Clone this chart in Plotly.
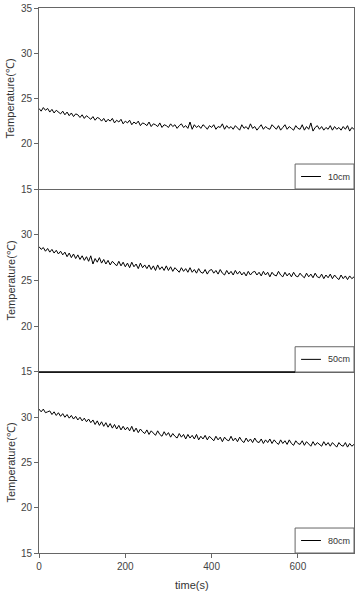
import plotly.graph_objects as go

time_s = list(range(0, 735, 5))

temp_10cm = [
    23.9, 23.6, 24.0, 23.7, 23.9, 23.5, 23.8, 23.4, 23.7, 23.5,
    23.3, 23.6, 23.2, 23.5, 23.1, 23.4, 23.0, 23.3, 23.2, 22.9,
    23.2, 22.8, 23.1, 22.9, 22.7, 23.0, 22.6, 22.9, 22.8, 22.5,
    22.8, 22.4, 22.7, 22.5, 22.8, 22.3, 22.6, 22.4, 22.7, 22.2,
    22.5, 22.3, 22.6, 22.1, 22.4, 22.2, 22.5, 22.0, 22.3, 22.2,
    22.0, 22.4, 21.9, 22.2, 22.1, 21.9, 22.3, 21.8, 22.1, 22.0,
    21.8, 22.2, 21.9, 22.1, 21.7, 22.0, 22.2, 21.8, 22.0, 21.7,
    22.4, 21.6, 22.1, 21.8, 22.0, 21.7, 22.1, 21.9, 21.6, 22.0,
    21.8, 22.1, 21.6, 21.9, 21.8, 22.2, 21.6, 22.0, 21.7, 21.9,
    21.6, 22.0, 21.8, 21.5, 22.1, 21.7, 21.9, 21.6, 22.2, 21.7,
    21.9, 21.5, 21.8, 22.1, 21.6, 21.9, 21.7, 21.6, 22.1, 21.8,
    21.6, 22.0, 21.5, 21.8, 22.1, 21.6, 21.9, 21.7, 21.5, 22.0,
    21.7, 21.6, 22.1, 21.5, 21.9, 21.6, 22.3, 21.4, 21.8, 22.0,
    21.6, 21.9, 21.5, 21.8, 21.6, 22.0, 21.5, 21.9, 21.6, 21.8,
    21.5, 21.9, 21.6, 22.0, 21.4, 21.8, 21.6,
]

temp_50cm = [
    28.7, 28.4, 28.6, 28.2, 28.5, 28.1, 28.4, 28.0, 28.3, 27.9,
    28.2, 27.8, 28.1, 27.6, 28.0, 27.5, 27.9, 27.4, 27.8, 27.3,
    27.7, 27.2, 27.6, 27.1, 27.7, 26.8, 27.4, 27.0, 27.5, 26.9,
    27.3, 26.8, 27.2, 26.7, 27.1, 26.8, 26.6, 27.1, 26.6, 27.0,
    26.5, 26.9, 26.4, 27.0, 26.5, 26.8, 26.3, 26.9, 26.4, 26.7,
    26.3, 26.7, 26.2, 26.6, 26.1, 26.7, 26.2, 26.5, 26.1, 26.6,
    26.1, 26.5, 26.0, 26.4, 26.1, 25.9, 26.4, 26.0, 26.3, 25.9,
    26.4, 25.9, 26.2, 25.8, 26.3, 25.9, 25.8, 26.2, 25.7, 26.1,
    26.2, 25.8, 26.1, 25.7, 26.2, 25.8, 25.6, 26.1, 25.7, 26.0,
    25.6, 26.1, 25.7, 26.0, 25.6, 25.9, 25.5, 26.0, 25.6, 25.9,
    26.0, 25.6, 25.9, 25.5, 26.0, 25.6, 25.9, 25.4, 25.9, 25.6,
    25.5, 26.0, 25.6, 25.4, 25.9, 25.5, 25.8, 25.4, 25.9, 25.5,
    25.4, 25.8, 25.5, 25.3, 25.8, 25.4, 25.7, 25.3, 25.8, 25.4,
    25.3, 25.7, 25.2, 25.6, 25.3, 25.7, 25.2, 25.6, 25.3, 25.1,
    25.6, 25.2, 25.5, 25.1, 25.5, 25.2, 25.4,
]

temp_80cm = [
    30.9, 30.6, 30.9, 30.5, 30.6, 30.7, 30.3, 30.6, 30.2, 30.5,
    30.1, 30.4, 30.0, 30.3, 29.9, 30.2, 29.8, 30.1, 29.7, 30.0,
    29.6, 29.9, 29.5, 29.8, 29.4, 29.7, 29.2, 29.6, 29.1, 29.5,
    29.0, 29.4, 28.9, 29.3, 28.8, 29.2, 28.7, 29.1, 28.6, 29.0,
    28.6, 28.9, 28.5, 29.0, 28.4, 28.8, 28.3, 28.7, 28.4, 28.2,
    28.6, 28.1, 28.5, 28.2, 28.0, 28.5, 28.1, 27.9, 28.4, 28.0,
    28.3, 27.8, 28.2, 27.9, 27.7, 28.2, 27.8, 28.1, 27.6, 28.1,
    27.7, 28.0, 27.6, 28.1, 27.5, 27.9, 27.6, 28.0, 27.5, 27.9,
    27.6, 27.4, 27.9, 27.5, 27.8, 27.3, 27.8, 27.5, 27.4, 27.9,
    27.4, 27.7, 27.3, 27.8, 27.4, 27.2, 27.7, 27.3, 27.6, 27.2,
    27.7, 27.3, 27.2, 27.6, 27.1, 27.5, 27.2, 27.6, 27.1, 27.5,
    27.2, 27.0, 27.5, 27.1, 27.4, 27.0, 27.5, 27.1, 26.9, 27.4,
    27.1, 27.0, 27.4, 26.9, 27.3, 27.0, 26.8, 27.3, 26.9, 27.2,
    27.0, 26.8, 27.3, 26.9, 27.2, 26.8, 27.2, 26.9, 26.7, 27.2,
    26.9, 26.8, 27.2, 26.7, 27.1, 26.8, 27.0,
]

series_names = ["10cm", "50cm", "80cm"]
series_values = [temp_10cm, temp_50cm, temp_80cm]
x_ticks = [0, 200, 400, 600]

FONT = "Liberation Sans, Arial, sans-serif"
TICK_COLOR = "#444"
AX_COLOR = "#666"

fig = go.Figure()
domains = [[0.66789, 1.0], [0.33211, 0.66789], [0.0, 0.33211]]
shapes = []
annotations = []

for i, (name, vals) in enumerate(zip(series_names, series_values)):
    xa = "x" if i == 0 else f"x{i+1}"
    ya = "y" if i == 0 else f"y{i+1}"
    fig.add_trace(go.Scatter(x=time_s, y=vals, mode="lines", name=name,
                             line=dict(color="black", width=1),
                             xaxis=xa, yaxis=ya, showlegend=False))
    xkey = "xaxis" if i == 0 else f"xaxis{i+1}"
    ykey = "yaxis" if i == 0 else f"yaxis{i+1}"
    last = (i == 2)
    fig.update_layout({
        xkey: dict(domain=[0, 1], range=[0, 730], anchor=ya,
                   showgrid=False, zeroline=False,
                   showline=True, mirror=(i == 0), linecolor=AX_COLOR, linewidth=1,
                   tickvals=x_ticks if last else [],
                   ticks="outside" if last else "", ticklen=4, tickcolor=AX_COLOR,
                   showticklabels=last,
                   tickfont=dict(family=FONT, size=10, color=TICK_COLOR)),
        ykey: dict(domain=domains[i], range=[15, 35], anchor=xa,
                   showgrid=False, zeroline=False,
                   showline=True, mirror=True, linecolor=AX_COLOR, linewidth=1,
                   tickvals=[15, 20, 25, 30, 35] if i == 0 else [15, 20, 25, 30],
                   ticks="outside", ticklen=4, tickcolor=AX_COLOR,
                   tickfont=dict(family=FONT, size=10, color=TICK_COLOR)),
    })
    xd = f"{xa} domain"
    yd = f"{ya} domain"
    # legend box
    shapes.append(dict(type="rect", xref=xd, yref=yd, x0=0.813, x1=1.0, y0=0.0, y1=0.138,
                       line=dict(color=AX_COLOR, width=1), fillcolor="white", layer="above"))
    shapes.append(dict(type="line", xref=xd, yref=yd, x0=0.832, x1=0.895, y0=0.069, y1=0.069,
                       line=dict(color="black", width=1), layer="above"))
    annotations.append(dict(text=name, xref=xd, yref=yd, x=0.912, y=0.069,
                            xanchor="left", yanchor="middle", showarrow=False,
                            font=dict(family=FONT, size=9, color="#333")))
    # y title
    annotations.append(dict(text="Temperature(℃)", xref="paper", yref=yd,
                            x=-0.092, y=0.5, xanchor="center", yanchor="middle",
                            textangle=-90, showarrow=False,
                            font=dict(family=FONT, size=11, color="#333")))

# darker boundary line between middle and bottom panels
shapes.append(dict(type="line", xref="x3 domain", yref="y3 domain", x0=0, x1=0.813, y0=1, y1=1,
                   line=dict(color="black", width=1.5), layer="above"))

annotations.append(dict(text="time(s)", xref="paper", yref="paper", x=0.485, y=-0.058,
                        xanchor="center", yanchor="middle", showarrow=False,
                        font=dict(family=FONT, size=11, color="#333")))

fig.update_layout(width=357, height=593,
                  margin=dict(l=39, r=3, t=8, b=40),
                  plot_bgcolor="white", paper_bgcolor="white",
                  shapes=shapes, annotations=annotations)

fig.write_html("out.html")
